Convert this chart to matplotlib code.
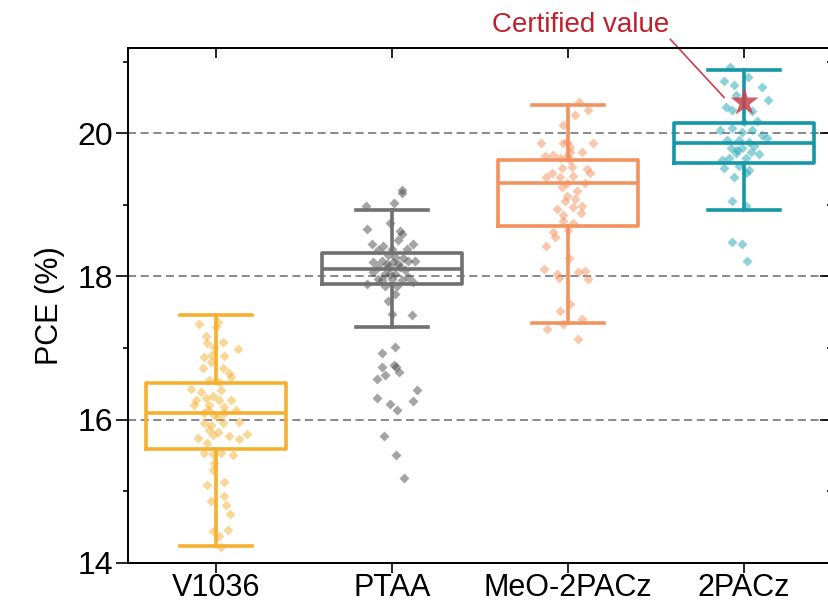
import matplotlib.pyplot as plt

plt.rcParams['font.family'] = ['Liberation Sans', 'DejaVu Sans']

# categories and box statistics (PCE %)
labels = ['V1036', 'PTAA', 'MeO-2PACz', '2PACz']
colors = ['#F5B030', '#707070', '#F2925E', '#1697A6']
point_colors = ['#F5B030', '#4A4A4A', '#F2925E', '#1FA5B3']
q1 = [15.59, 17.89, 18.70, 19.58]
med = [16.09, 18.10, 19.30, 19.87]
q3 = [16.51, 18.33, 19.62, 20.15]
whislo = [14.24, 17.29, 17.35, 18.93]
whishi = [17.46, 18.93, 20.40, 20.89]

certified = 20.44

# jittered devices: (offset from box centre, PCE)
v1036_pts = [
    (-0.094, 17.34), (0.009, 17.37), (-0.057, 17.17), (-0.051, 17.07), (0.038, 17.08),
    (0.123, 16.99), (-0.066, 16.88), (-0.025, 16.90), (0.047, 16.89), (-0.075, 16.72),
    (-0.028, 16.81), (0.038, 16.72), (0.075, 16.65), (0.085, 16.60), (-0.038, 16.55),
    (0.019, 16.53), (-0.142, 16.43), (-0.085, 16.39), (0.028, 16.41), (-0.113, 16.27),
    (-0.057, 16.31), (-0.019, 16.33), (0.019, 16.27), (0.085, 16.27), (-0.123, 16.20),
    (-0.038, 16.20), (0.047, 16.18), (0.113, 16.13), (-0.066, 16.09), (-0.009, 16.06),
    (0.047, 16.09), (-0.066, 15.95), (0.038, 15.95), (0.132, 15.97), (-0.038, 15.86),
    (-0.104, 15.75), (-0.019, 15.79), (0.009, 15.83), (0.075, 15.77), (0.132, 15.73),
    (0.175, 15.80), (-0.051, 15.67), (-0.066, 15.53), (-0.019, 15.52), (0.028, 15.53),
    (0.094, 15.51), (-0.009, 15.39), (-0.019, 15.30), (-0.051, 15.09), (0.047, 15.13),
    (-0.028, 14.86), (0.043, 14.93), (0.057, 14.81), (0.081, 14.69), (-0.019, 14.45),
    (0.066, 14.46), (0.019, 14.37), (0.028, 14.23), (0.0, 17.30), (-0.009, 17.02),
    (-0.047, 16.13), (0.009, 16.04), (-0.028, 15.93),
]
ptaa_pts = [
    (0.058, 19.21), (0.055, 19.17), (0.013, 19.03), (-0.149, 18.98), (-0.011, 18.75),
    (-0.143, 18.66), (0.045, 18.64), (0.055, 18.60), (0.032, 18.51), (-0.115, 18.46),
    (0.121, 18.46), (-0.049, 18.42), (-0.002, 18.39), (0.083, 18.39), (-0.077, 18.37),
    (-0.021, 18.30), (0.017, 18.27), (-0.106, 18.20), (-0.058, 18.22), (0.008, 18.20),
    (0.089, 18.22), (0.130, 18.22), (-0.077, 18.13), (-0.021, 18.13), (0.045, 18.13),
    (0.074, 18.09), (-0.106, 18.06), (-0.040, 18.04), (0.017, 18.03), (0.092, 17.99),
    (-0.077, 17.97), (-0.002, 17.97), (0.055, 17.95), (-0.143, 17.90), (-0.040, 17.87),
    (0.026, 17.87), (0.121, 17.93), (0.017, 17.76), (-0.021, 17.66), (-0.002, 17.48),
    (0.115, 17.46), (-0.055, 16.93), (0.017, 17.01), (-0.055, 16.74), (0.013, 16.76),
    (0.021, 16.73), (0.040, 16.66), (-0.040, 16.62), (-0.087, 16.57), (0.140, 16.42),
    (-0.087, 16.31), (-0.011, 16.22), (0.030, 16.14), (0.117, 16.26), (-0.043, 15.77),
    (0.023, 15.51), (0.070, 15.19), (-0.030, 18.18), (0.036, 18.18), (-0.011, 18.04),
    (-0.058, 17.95), (0.064, 18.26),
]
meo_pts = [
    (0.064, 20.43), (0.115, 20.32), (0.040, 20.26), (-0.030, 20.11), (-0.155, 19.87),
    (-0.026, 19.87), (0.011, 19.81), (0.140, 19.87), (0.077, 19.74), (-0.130, 19.68),
    (-0.083, 19.69), (-0.008, 19.68), (0.011, 19.62), (-0.036, 19.52), (0.021, 19.53),
    (0.106, 19.50), (0.125, 19.44), (-0.092, 19.44), (-0.125, 19.39), (-0.045, 19.39),
    (0.030, 19.41), (-0.008, 19.31), (0.096, 19.31), (-0.036, 19.25), (0.049, 19.20),
    (-0.008, 19.13), (0.040, 19.08), (-0.017, 19.06), (0.077, 18.99), (0.030, 18.97),
    (-0.064, 18.94), (0.074, 18.88), (-0.030, 18.86), (-0.026, 18.77), (0.026, 18.74),
    (-0.083, 18.62), (0.002, 18.65), (-0.074, 18.55), (-0.125, 18.43), (0.008, 18.26),
    (-0.136, 18.11), (-0.064, 18.04), (-0.049, 17.98), (0.058, 18.06), (0.096, 18.07),
    (0.115, 17.97), (0.011, 17.62), (-0.045, 17.52), (0.077, 17.40), (-0.026, 17.33),
    (-0.121, 17.27), (0.058, 17.13), (-0.008, 19.88), (0.011, 19.74), (-0.045, 19.65),
]
pacz_pts = [
    (-0.081, 20.93), (0.025, 20.79), (-0.113, 20.73), (-0.057, 20.68), (0.104, 20.64),
    (0.138, 20.46), (-0.047, 20.53), (-0.104, 20.37), (-0.066, 20.32), (0.047, 20.31),
    (0.075, 20.17), (-0.138, 20.04), (-0.066, 20.07), (-0.009, 20.02), (0.047, 20.04),
    (0.104, 19.97), (0.132, 19.94), (-0.094, 19.90), (-0.028, 19.90), (0.028, 19.88),
    (-0.075, 19.80), (-0.009, 19.80), (0.057, 19.82), (-0.047, 19.72), (0.085, 19.71),
    (-0.085, 19.65), (0.009, 19.65), (-0.113, 19.52), (-0.028, 19.54), (0.028, 19.48),
    (-0.057, 19.39), (0.009, 19.44), (-0.066, 19.06), (0.009, 18.99), (-0.066, 18.48),
    (-0.009, 18.45), (0.019, 18.21), (0.0, 20.16), (-0.038, 19.76), (0.038, 19.74),
    (-0.123, 19.62),
]
all_pts = [v1036_pts, ptaa_pts, meo_pts, pacz_pts]

fig = plt.figure(figsize=(8.29, 6.07), dpi=100)
ax = fig.add_axes([0.1544, 0.0725, 0.8492, 0.8484])
positions = [1, 2, 3, 4]

# dashed reference lines
for yv in [16, 18, 20]:
    ax.axhline(yv, color='#808080', lw=1.3, dashes=(4.5, 2.5), zorder=1)

# scatter points
for i, pts in enumerate(all_pts):
    xs = [positions[i] + p[0] for p in pts]
    ys = [p[1] for p in pts]
    ax.plot(xs, ys, 'D', ms=5.2, color=point_colors[i], alpha=0.5,
            mec='none', zorder=2)

# boxes
for i in range(4):
    stats = [{'q1': q1[i], 'med': med[i], 'q3': q3[i],
              'whislo': whislo[i], 'whishi': whishi[i], 'fliers': []}]
    lp = dict(color=colors[i], lw=2.6)
    ax.bxp(stats, positions=[positions[i]], widths=0.8, capwidths=0.41,
           showfliers=False, boxprops=lp, whiskerprops=lp, capprops=lp,
           medianprops=lp, manage_ticks=False, zorder=3)

# certified value
ax.plot([4], [certified], '*', ms=21, color='#C8414C', alpha=0.85,
        mec='none', zorder=4)
ax.plot([3.582, 3.887], [21.31, 20.50], color='#C8414C', lw=1.2,
        clip_on=False, zorder=4)
ax.text(3.07, 21.51, 'Certified value', color='#C0202E', fontsize=20,
        ha='center', va='center')

ax.set_xlim(0.5, 4.5)
ax.set_ylim(14, 21.19)
ax.set_xticks(positions)
ax.set_xticklabels(labels, fontsize=22)
ax.set_yticks([14, 16, 18, 20])
ax.set_yticks([15, 17, 19, 21], minor=True)
ax.tick_params(axis='y', which='major', direction='out', length=8.5, width=1.2,
               labelsize=23, pad=2, right=False)
ax.tick_params(axis='y', which='minor', direction='out', length=3.6, width=1.2,
               right=False)
ax.tick_params(axis='x', which='major', direction='out', length=7, width=1.2,
               pad=0.5, top=False)
ax.set_ylabel('PCE (%)', fontsize=22, labelpad=9)

for s in ax.spines.values():
    s.set_linewidth(1.2)

# inward ticks on top and right
axr = ax.twinx()
axr.set_ylim(ax.get_ylim())
axr.set_yticks([14, 16, 18, 20])
axr.set_yticks([15, 17, 19, 21], minor=True)
axr.tick_params(axis='y', which='major', direction='in', length=8.5, width=1.2,
                labelright=False)
axr.tick_params(axis='y', which='minor', direction='in', length=3.6, width=1.2)
axt = ax.twiny()
axt.set_xlim(ax.get_xlim())
axt.set_xticks(positions)
axt.tick_params(axis='x', direction='in', length=7, width=1.2, labeltop=False)
for a in (axr, axt):
    for s in a.spines.values():
        s.set_linewidth(1.2)

fig.savefig('out.png', dpi=100)
